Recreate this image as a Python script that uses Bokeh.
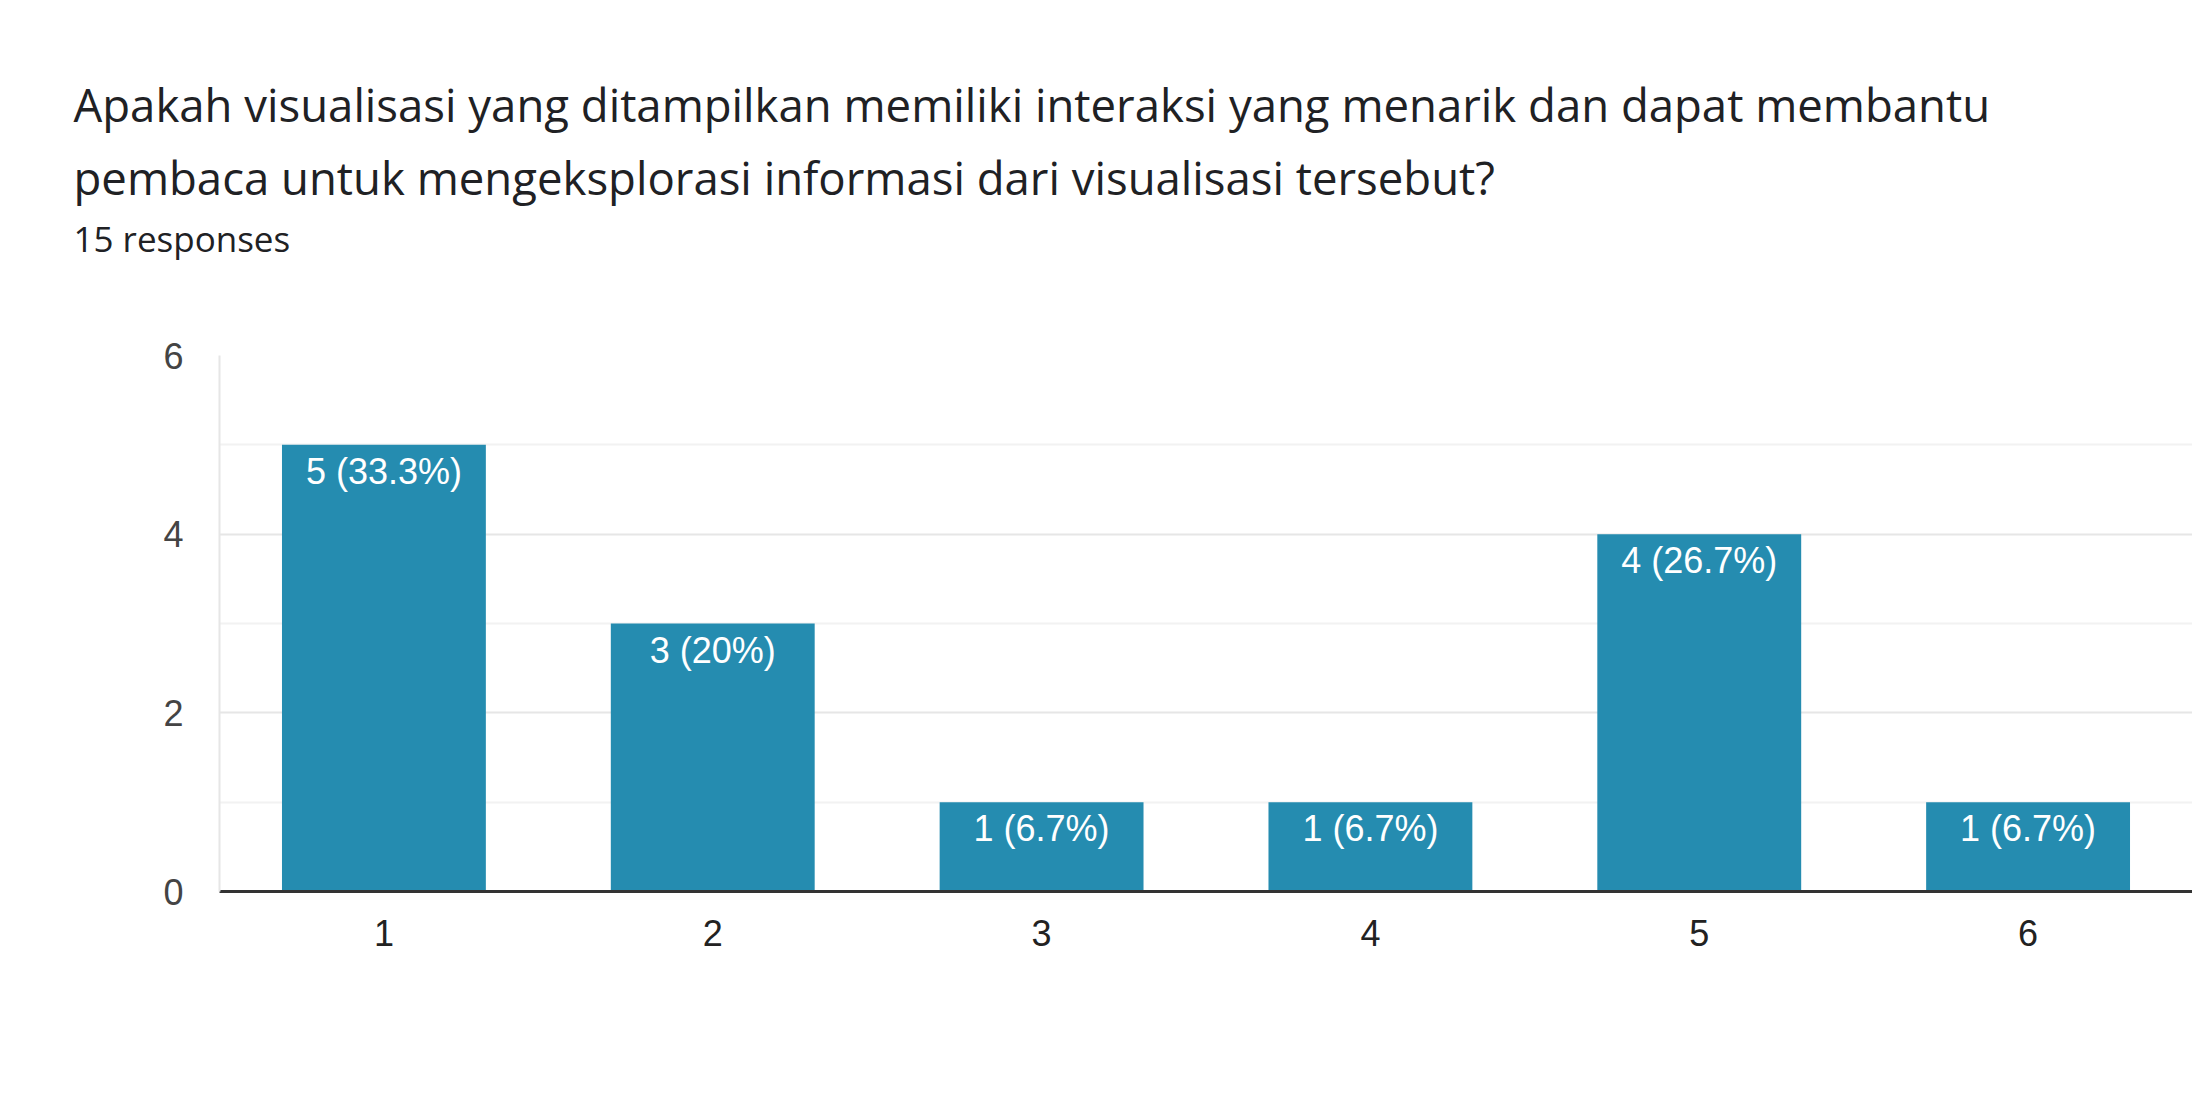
from bokeh.plotting import figure
from bokeh.models import ColumnDataSource, Range1d, FixedTicker, Title
from bokeh.core.properties import value
from bokeh.embed import file_html
from bokeh.resources import INLINE

categories = ["1", "2", "3", "4", "5", "6"]
counts = [5, 3, 1, 1, 4, 1]
percents = ["33.3%", "20%", "6.7%", "6.7%", "26.7%", "6.7%"]
bar_labels = [f"{c} ({p})" for c, p in zip(counts, percents)]
y_ticks = [0, 2, 4, 6]
y_minor_ticks = [1, 3, 5]
title_lines = [
    "Apakah visualisasi yang ditampilkan memiliki interaksi yang menarik dan dapat membantu",
    "pembaca untuk mengeksplorasi informasi dari visualisasi tersebut?",
]
subtitle = "15 responses"

W, H = 2192, 1100
BL, BT, BR = 219, 355, 0
BB = H - 891

src = ColumnDataSource(dict(x=categories, top=counts, label=bar_labels))

p = figure(width=W, height=H, x_range=categories, y_range=Range1d(0, 6),
           output_backend="svg", toolbar_location=None,
           min_border_left=BL, min_border_top=BT, min_border_bottom=BB,
           min_border_right=BR)
p.outline_line_color = None
p.background_fill_color = "white"

p.vbar(x="x", top="top", width=0.62, source=src, color="#258CB0", line_color=None)
p.text(x="x", y="top", text="label", source=src, text_align="center",
       text_baseline="top", y_offset=6, text_color="white",
       text_font=value("Liberation Sans"), text_font_size="36px")

p.xgrid.grid_line_color = None
p.ygrid.grid_line_color = "#e6e6e6"
p.ygrid.grid_line_width = 2
p.ygrid.minor_grid_line_color = "#f2f2f2"
p.ygrid.minor_grid_line_width = 2

p.yaxis.ticker = FixedTicker(ticks=y_ticks, minor_ticks=y_minor_ticks)
p.yaxis.axis_line_color = "#e6e6e6"
p.yaxis.axis_line_width = 2
p.yaxis.major_tick_line_color = None
p.yaxis.minor_tick_line_color = None
p.yaxis.major_tick_out = 0
p.yaxis.major_tick_in = 0
p.yaxis.major_label_standoff = 32
p.yaxis.major_label_text_font = "Liberation Sans"
p.yaxis.major_label_text_font_size = "36px"
p.yaxis.major_label_text_color = "#444444"

p.xaxis.axis_line_color = "#333333"
p.xaxis.axis_line_width = 3
p.xaxis.major_tick_line_color = None
p.xaxis.minor_tick_line_color = None
p.xaxis.major_tick_out = 0
p.xaxis.major_tick_in = 0
p.xaxis.major_label_standoff = 28
p.xaxis.major_label_text_font = "Liberation Sans"
p.xaxis.major_label_text_font_size = "36px"
p.xaxis.major_label_text_color = "#222222"

# titles, stacked above the frame (last added is outermost)
common = dict(align="left", text_color="#202124", text_font="Open Sans",
              text_font_style="normal", offset=73 - BL)
p.add_layout(Title(text=" ", text_font_size="10px", standoff=72, **common), "above")
p.add_layout(Title(text=subtitle, text_font_size="35px", standoff=11, **common), "above")
p.add_layout(Title(text=title_lines[1], text_font_size="45.5px", standoff=0, **common), "above")
p.add_layout(Title(text=title_lines[0], text_font_size="45.5px", standoff=18, **common), "above")

open("out.html", "w").write(file_html(p, INLINE))
